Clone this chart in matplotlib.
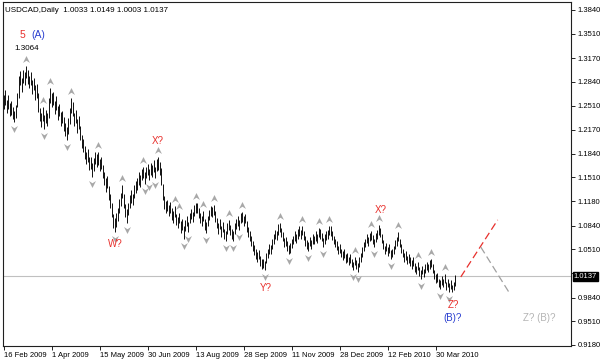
import matplotlib
matplotlib.use('Agg')
import matplotlib.pyplot as plt
from matplotlib.path import Path
from matplotlib.transforms import offset_copy, blended_transform_factory

plt.rcParams['font.family'] = ['Liberation Sans', 'DejaVu Sans']

# daily bars, USDCAD from 16 Feb 2009 (index 0) on
bar_high = [
    1.266, 1.272, 1.259, 1.265, 1.254, 1.258, 1.249, 1.244, 1.252, 1.268,
    1.292, 1.299, 1.290, 1.301, 1.297, 1.3064, 1.300, 1.292, 1.298, 1.286,
    1.290, 1.279, 1.281, 1.268, 1.248, 1.240, 1.249, 1.238, 1.245, 1.241,
    1.262, 1.276, 1.268, 1.270, 1.258, 1.264, 1.250, 1.253, 1.242, 1.244,
    1.235, 1.227, 1.221, 1.234, 1.247, 1.261, 1.256, 1.241, 1.245, 1.232,
    1.236, 1.222, 1.210, 1.204, 1.195, 1.187, 1.190, 1.180, 1.180, 1.171,
    1.178, 1.186, 1.183, 1.187, 1.177, 1.180, 1.168, 1.159, 1.150, 1.153,
    1.139, 1.128, 1.115, 1.100, 1.094, 1.101, 1.109, 1.121, 1.129, 1.140,
    1.128, 1.114, 1.107, 1.116, 1.126, 1.133, 1.128, 1.140, 1.146, 1.150,
    1.158, 1.154, 1.163, 1.166, 1.158, 1.165, 1.170, 1.163, 1.171, 1.168,
    1.175, 1.166, 1.176, 1.180, 1.173, 1.164, 1.142, 1.125, 1.118, 1.120,
    1.113, 1.117, 1.108, 1.104, 1.111, 1.100, 1.096, 1.102, 1.090, 1.093,
    1.084, 1.092, 1.097, 1.089, 1.102, 1.107, 1.103, 1.112, 1.116, 1.116,
    1.109, 1.102, 1.097, 1.104, 1.093, 1.089, 1.098, 1.106, 1.111, 1.110,
    1.112, 1.104, 1.095, 1.087, 1.093, 1.083, 1.089, 1.079, 1.077, 1.087,
    1.092, 1.085, 1.079, 1.077, 1.087, 1.093, 1.097, 1.092, 1.101, 1.103,
    1.097, 1.100, 1.090, 1.082, 1.077, 1.069, 1.062, 1.057, 1.052, 1.047,
    1.050, 1.042, 1.037, 1.038, 1.035, 1.046, 1.052, 1.058, 1.057, 1.066,
    1.072, 1.078, 1.077, 1.086, 1.088, 1.081, 1.075, 1.067, 1.068, 1.062,
    1.057, 1.060, 1.066, 1.070, 1.076, 1.072, 1.079, 1.083, 1.078, 1.084,
    1.077, 1.069, 1.064, 1.061, 1.068, 1.064, 1.072, 1.070, 1.076, 1.072,
    1.081, 1.079, 1.074, 1.067, 1.072, 1.076, 1.078, 1.084, 1.083, 1.076,
    1.070, 1.066, 1.062, 1.056, 1.058, 1.052, 1.048, 1.051, 1.044, 1.046,
    1.041, 1.044, 1.038, 1.034, 1.041, 1.036, 1.032, 1.040, 1.046, 1.054,
    1.061, 1.066, 1.072, 1.068, 1.074, 1.077, 1.071, 1.066, 1.074, 1.078,
    1.085, 1.080, 1.072, 1.064, 1.056, 1.060, 1.054, 1.058, 1.050, 1.052,
    1.056, 1.064, 1.068, 1.075, 1.066, 1.058, 1.052, 1.046, 1.048, 1.042,
    1.044, 1.040, 1.036, 1.040, 1.032, 1.028, 1.034, 1.026, 1.022, 1.028,
    1.024, 1.030, 1.034, 1.031, 1.036, 1.038, 1.030, 1.022, 1.016, 1.018,
    1.010, 1.008, 1.014, 1.010, 1.016, 1.006, 1.010, 1.004, 1.008, 1.002,
    1.006, 1.0149,
]
bar_low = [
    1.246, 1.252, 1.241, 1.246, 1.236, 1.238, 1.232, 1.228, 1.234, 1.249,
    1.262, 1.280, 1.270, 1.283, 1.279, 1.289, 1.281, 1.275, 1.280, 1.267,
    1.272, 1.259, 1.262, 1.242, 1.229, 1.221, 1.230, 1.219, 1.227, 1.222,
    1.234, 1.254, 1.249, 1.252, 1.239, 1.245, 1.231, 1.236, 1.223, 1.227,
    1.216, 1.209, 1.203, 1.212, 1.226, 1.240, 1.236, 1.222, 1.227, 1.213,
    1.219, 1.203, 1.192, 1.186, 1.177, 1.170, 1.173, 1.162, 1.163, 1.152,
    1.160, 1.169, 1.166, 1.168, 1.160, 1.163, 1.150, 1.141, 1.131, 1.136,
    1.119, 1.109, 1.096, 1.081, 1.075, 1.082, 1.090, 1.102, 1.111, 1.122,
    1.109, 1.096, 1.088, 1.099, 1.108, 1.116, 1.112, 1.123, 1.129, 1.134,
    1.141, 1.138, 1.147, 1.150, 1.142, 1.150, 1.154, 1.147, 1.155, 1.152,
    1.159, 1.150, 1.160, 1.162, 1.155, 1.140, 1.120, 1.107, 1.102, 1.104,
    1.097, 1.102, 1.092, 1.088, 1.096, 1.085, 1.080, 1.087, 1.074, 1.078,
    1.066, 1.077, 1.083, 1.075, 1.087, 1.093, 1.089, 1.098, 1.102, 1.101,
    1.095, 1.088, 1.083, 1.091, 1.078, 1.074, 1.084, 1.092, 1.098, 1.096,
    1.099, 1.089, 1.081, 1.073, 1.079, 1.068, 1.075, 1.065, 1.063, 1.073,
    1.078, 1.071, 1.065, 1.062, 1.073, 1.079, 1.083, 1.078, 1.087, 1.089,
    1.083, 1.087, 1.075, 1.068, 1.063, 1.055, 1.048, 1.043, 1.038, 1.033,
    1.037, 1.028, 1.024, 1.025, 1.022, 1.032, 1.039, 1.045, 1.044, 1.052,
    1.059, 1.065, 1.064, 1.071, 1.075, 1.068, 1.062, 1.054, 1.055, 1.049,
    1.044, 1.046, 1.053, 1.058, 1.063, 1.060, 1.066, 1.070, 1.066, 1.071,
    1.064, 1.056, 1.052, 1.048, 1.055, 1.051, 1.059, 1.058, 1.063, 1.060,
    1.068, 1.066, 1.062, 1.054, 1.059, 1.064, 1.066, 1.071, 1.070, 1.064,
    1.058, 1.054, 1.050, 1.044, 1.046, 1.040, 1.036, 1.039, 1.032, 1.034,
    1.029, 1.032, 1.026, 1.022, 1.029, 1.024, 1.020, 1.027, 1.033, 1.041,
    1.048, 1.054, 1.060, 1.056, 1.062, 1.064, 1.059, 1.054, 1.061, 1.066,
    1.071, 1.068, 1.060, 1.052, 1.044, 1.048, 1.042, 1.046, 1.038, 1.040,
    1.044, 1.051, 1.056, 1.062, 1.054, 1.046, 1.040, 1.034, 1.036, 1.030,
    1.032, 1.028, 1.024, 1.028, 1.020, 1.016, 1.022, 1.014, 1.010, 1.016,
    1.012, 1.018, 1.022, 1.019, 1.024, 1.026, 1.018, 1.010, 1.004, 1.006,
    0.998, 0.996, 1.002, 0.998, 1.004, 0.994, 0.998, 0.992, 0.996, 0.992,
    0.994, 1.0003,
]

last_bar = [1.0033, 1.0149, 1.0003, 1.0137]   # O H L C of the current bar
last_close = 1.0137

date_ticks = [0, 32, 64, 96, 128, 160, 192, 224, 256, 288]
date_labels = ['16 Feb 2009', '1 Apr 2009', '15 May 2009', '30 Jun 2009', '13 Aug 2009',
               '28 Sep 2009', '11 Nov 2009', '28 Dec 2009', '12 Feb 2010', '30 Mar 2010']
price_ticks = [1.3840, 1.3510, 1.3170, 1.2840, 1.2510, 1.2170, 1.1840, 1.1510,
               1.1180, 1.0840, 1.0510, 1.0180, 0.9840, 0.9510, 0.9180]

# wave count labels: text, bar index, price, colour
wave_labels = [
    ('X?', 102.7, 1.202, '#e8302c'),
    ('W?', 74.7, 1.058, '#e8302c'),
    ('Y?', 174.7, 0.997, '#e8302c'),
    ('X?', 251.3, 1.106, '#e8302c'),
    ('Z?', 300.0, 0.974, '#e8302c'),
    ('(B)?', 299.3, 0.955, '#2b3fd0'),
    ('Z? (B)?', 356.7, 0.955, '#b4b4b4'),
]

# projected paths
proj_up_x = [304.7, 329.3]
proj_up_y = [1.0126, 1.0919]
proj_down_x = [318.0, 336.7]
proj_down_y = [1.0543, 0.9917]

fractal_color = '#a8a8a8'
bar_color = 'black'

fig = plt.figure(figsize=(6, 3.6), dpi=100)
fig.patch.set_facecolor('white')
ax = fig.add_axes([0.005, 0.039, 0.9467, 0.9556])

x = list(range(len(bar_high)))
ax.vlines(x, bar_low, bar_high, color=bar_color, lw=0.65)

# fractals (5-bar highs / lows)
up_arrow = Path([(0, 1), (1, -1), (0, -0.35), (-1, -1), (0, 1)],
                [Path.MOVETO, Path.LINETO, Path.LINETO, Path.LINETO, Path.CLOSEPOLY])
down_arrow = Path([(0, -1), (1, 1), (0, 0.35), (-1, 1), (0, -1)],
                  [Path.MOVETO, Path.LINETO, Path.LINETO, Path.LINETO, Path.CLOSEPOLY])
up_x, up_y, dn_x, dn_y = [], [], [], []
for i in range(2, len(bar_high) - 2):
    if bar_high[i] > max(bar_high[i - 2:i]) and bar_high[i] >= max(bar_high[i + 1:i + 3]):
        up_x.append(i)
        up_y.append(bar_high[i])
    if bar_low[i] < min(bar_low[i - 2:i]) and bar_low[i] <= min(bar_low[i + 1:i + 3]):
        dn_x.append(i)
        dn_y.append(bar_low[i])
trans_up = offset_copy(ax.transData, fig=fig, y=7, units='dots')
trans_dn = offset_copy(ax.transData, fig=fig, y=-7, units='dots')
ax.plot(up_x, up_y, ls='none', marker=up_arrow, ms=5, color=fractal_color, mew=0, transform=trans_up)
ax.plot(dn_x, dn_y, ls='none', marker=down_arrow, ms=5, color=fractal_color, mew=0, transform=trans_dn)

# current price line
ax.axhline(last_close, color='#c0c0c0', lw=0.8, zorder=0)

# projections
ax.plot(proj_up_x, proj_up_y, color='#e8302c', lw=0.9, dashes=(6, 3))
ax.plot(proj_down_x, proj_down_y, color='#a0a0a0', lw=0.9, dashes=(6, 3))

for txt, xi, yp, col in wave_labels:
    ax.text(xi, yp, txt, color=col, fontsize=7, ha='center', va='center')

# top of wave (A)
ax.text(12.5, 1.349, '5', color='#e8302c', fontsize=7.5, ha='center', va='center')
ax.text(23.0, 1.349, '(A)', color='#2b3fd0', fontsize=7.5, ha='center', va='center')
ax.text(15.5, 1.331, '%.4f' % max(bar_high), color='black', fontsize=5.8, ha='center', va='center')

ax.text(0.004, 0.985, 'USDCAD,Daily  %.4f %.4f %.4f %.4f' % tuple(last_bar),
        transform=ax.transAxes, fontsize=5.8, ha='left', va='top')

ax.set_xlim(-0.5, 378.2)
ax.set_ylim(0.9166, 1.3951)

ax.set_xticks(date_ticks)
ax.set_xticklabels(date_labels)
for lab in ax.get_xticklabels():
    lab.set_horizontalalignment('left')
ax.tick_params(axis='x', labelsize=5.5, length=3, pad=1, direction='out', width=0.6)

ax.yaxis.tick_right()
ax.set_yticks(price_ticks)
# the 1.0180 label sits under the current price tag
ax.set_yticklabels(['' if abs(p - last_close) < 0.006 else '%.4f' % p for p in price_ticks])
ax.tick_params(axis='y', labelsize=5.5, length=3, pad=1.5, direction='out', width=0.6)

for s in ax.spines.values():
    s.set_linewidth(0.8)
    s.set_color('#202020')

# current price tag on the scale
tag_tr = blended_transform_factory(ax.transAxes, ax.transData)
ax.text(1.005, last_close, '%.4f' % last_close, transform=tag_tr, color='white',
        fontsize=5.5, ha='left', va='center', clip_on=False, zorder=10,
        bbox=dict(boxstyle='square,pad=0.12', facecolor='black', edgecolor='black'))

fig.savefig('out.png', dpi=100, facecolor='white')
